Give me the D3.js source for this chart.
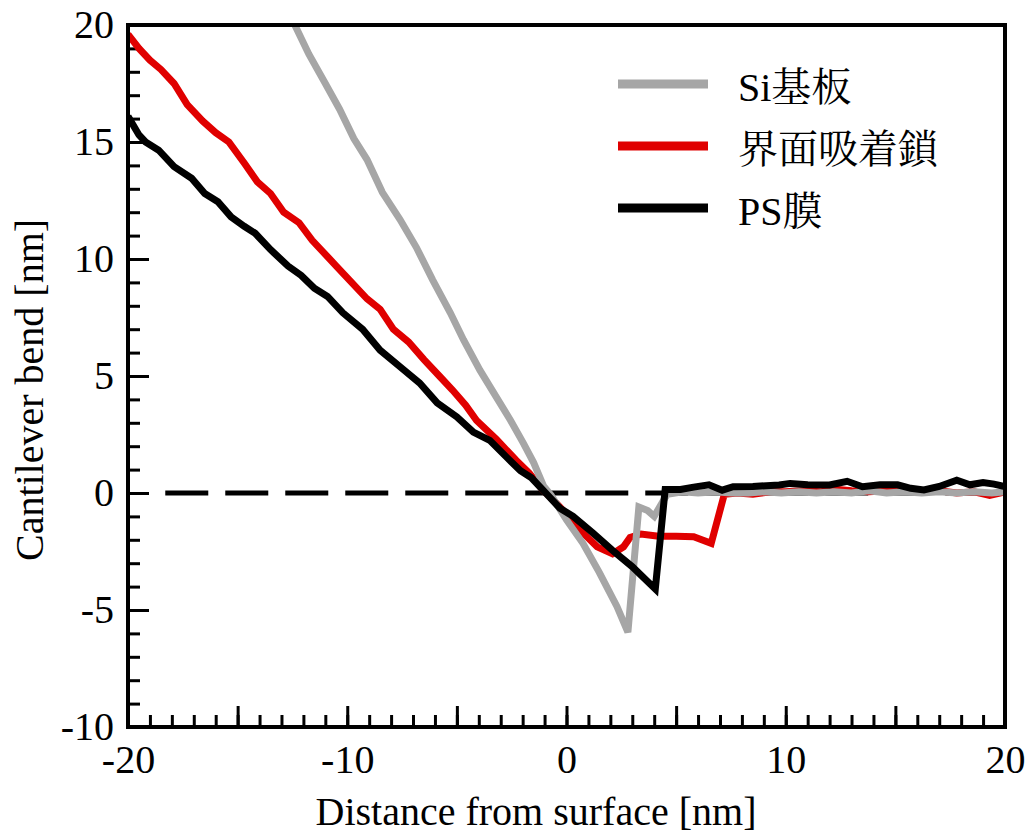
<!DOCTYPE html>
<html>
<head>
<meta charset="utf-8">
<script src="https://cdn.jsdelivr.net/npm/d3@7"></script>
<style>
  html, body { margin: 0; padding: 0; background: #fff; }
</style>
</head>
<body>
<div id="chart-region"></div>
<script>
// Distance from surface [nm] / cantilever bend [nm]
const siX = [-12.7, -11.75, -11.0, -10.35, -9.7, -9.1, -8.4, -7.6, -6.85, -6.1, -5.3, -4.7, -3.95, -3.2, -2.55, -1.95, -1.5, -1.05, -0.7, 0.0, 0.75, 1.5, 2.3, 2.8, 3.3, 3.7, 4.0, 4.4, 4.6, 5.3, 6.0, 6.8, 7.5, 8.3, 9.0, 9.8, 10.6, 11.4, 12.2, 13.0, 13.8, 14.6, 15.4, 16.2, 17.0, 17.8, 18.6, 19.4, 20.0];
const siY = [20.6, 18.75, 17.5, 16.4, 15.15, 14.25, 12.85, 11.7, 10.5, 9.1, 7.7, 6.55, 5.25, 4.1, 3.1, 2.1, 1.3, 0.3, -0.1, -1.15, -2.15, -3.4, -4.85, -5.95, -0.6, -0.75, -1.0, -0.35, -0.05, 0.05, 0.0, 0.05, 0.0, 0.0, 0.05, 0.0, 0.05, 0.0, 0.05, 0.0, 0.1, 0.0, 0.05, 0.0, 0.05, 0.0, 0.05, 0.0, 0.05];

const chainX = [-20.0, -19.5, -19.0, -18.5, -17.9, -17.3, -16.6, -16.0, -15.4, -14.7, -14.1, -13.5, -12.9, -12.2, -11.6, -11.0, -10.5, -9.9, -9.1, -8.5, -7.9, -7.2, -6.5, -5.8, -5.2, -4.6, -4.1, -3.2, -2.3, -1.7, -1.1, -0.5, 0.0, 0.4, 0.8, 1.4, 2.1, 2.6, 2.9, 3.4, 4.2, 5.0, 5.8, 6.6, 7.2, 7.8, 8.5, 9.3, 10.0, 10.8, 11.6, 12.4, 13.0, 13.8, 14.6, 15.4, 16.2, 17.0, 17.8, 18.6, 19.3, 20.0];
const chainY = [19.6, 19.0, 18.5, 18.1, 17.5, 16.6, 15.9, 15.4, 15.0, 14.1, 13.3, 12.8, 12.0, 11.55, 10.8, 10.2, 9.7, 9.1, 8.3, 7.85, 7.0, 6.45, 5.7, 5.0, 4.4, 3.75, 3.1, 2.3, 1.4, 0.85, 0.15, -0.4, -0.9, -1.3, -1.75, -2.3, -2.6, -2.3, -1.9, -1.75, -1.85, -1.85, -1.87, -2.15, -0.05, 0.0, -0.05, 0.05, 0.05, 0.1, 0.05, 0.15, 0.1, 0.05, 0.1, 0.15, 0.05, 0.1, 0.0, 0.05, -0.1, 0.05];

const psX = [-20.0, -19.5, -19.2, -18.6, -17.9, -17.1, -16.5, -15.9, -15.3, -14.7, -14.2, -13.5, -12.7, -12.1, -11.5, -10.9, -10.2, -9.3, -8.5, -7.6, -6.7, -5.9, -5.0, -4.25, -3.5, -2.7, -2.1, -1.6, -0.9, -0.3, 0.3, 1.2, 2.1, 3.0, 4.05, 4.5, 5.2, 5.8, 6.5, 7.1, 7.6, 8.5, 9.7, 10.2, 11.0, 12.0, 12.8, 13.5, 14.3, 15.1, 15.7, 16.3, 17.0, 17.8, 18.4, 19.0, 19.5, 20.0];
const psY = [16.1, 15.3, 15.0, 14.65, 13.95, 13.45, 12.8, 12.45, 11.8, 11.4, 11.1, 10.4, 9.7, 9.3, 8.75, 8.4, 7.7, 7.0, 6.1, 5.4, 4.7, 3.85, 3.25, 2.6, 2.25, 1.5, 0.95, 0.65, -0.05, -0.65, -1.0, -1.7, -2.45, -3.15, -4.1, 0.15, 0.15, 0.25, 0.35, 0.12, 0.27, 0.28, 0.34, 0.41, 0.35, 0.34, 0.5, 0.27, 0.35, 0.35, 0.2, 0.13, 0.28, 0.55, 0.35, 0.45, 0.38, 0.27];

const seriesNames = ["Si基板", "界面吸着鎖", "PS膜"];
const seriesColors = ["#a6a6a6", "#e00000", "#000000"];

const xTicksMajor = [-20, -10, 0, 10, 20];
const yTicksMajor = [-10, -5, 0, 5, 10, 15, 20];

const FONT = "'Liberation Serif', 'Noto Serif CJK JP', serif";

const W = 1027, H = 834;
const margin = { top: 25, right: 22, bottom: 107, left: 128 };
const width = W - margin.left - margin.right,
      height = H - margin.top - margin.bottom;

const svg = d3.select("#chart-region")
  .append("svg")
  .attr("width", W)
  .attr("height", H)
  .attr("font-family", FONT);

const g = svg.append("g")
  .attr("transform", `translate(${margin.left}, ${margin.top})`);

const x = d3.scaleLinear().domain([-20, 20]).range([0, width]);
const y = d3.scaleLinear().domain([-10, 20]).range([height, 0]);

g.append("clipPath").attr("id", "plot-clip")
  .append("rect")
  .attr("width", width).attr("height", height);

/* -------------------- AXES -------------------- */

const styleText = sel => sel
  .attr("font-family", FONT)
  .style("font-size", "40px")
  .attr("fill", "#000");

// minor ticks, every 1 nm, pointing inward
g.append("g")
  .attr("transform", `translate(0, ${height})`)
  .call(d3.axisBottom(x).tickValues(d3.range(-20, 21, 1)).tickSize(-12).tickFormat(""))
  .call(a => a.select(".domain").remove())
  .call(a => a.selectAll("line").attr("stroke-width", 3));

g.append("g")
  .call(d3.axisLeft(y).tickValues(d3.range(-10, 21, 1)).tickSize(-12).tickFormat(""))
  .call(a => a.select(".domain").remove())
  .call(a => a.selectAll("line").attr("stroke-width", 3));

// major ticks every 5, labels every 10 on x
g.append("g")
  .attr("transform", `translate(0, ${height})`)
  .call(d3.axisBottom(x).tickValues(d3.range(-20, 21, 5)).tickSize(-21).tickPadding(18)
    .tickFormat(d => xTicksMajor.includes(d) ? String(d) : ""))
  .call(a => a.select(".domain").remove())
  .call(a => a.selectAll("line").attr("stroke-width", 3))
  .call(a => a.attr("font-family", FONT))
  .call(a => styleText(a.selectAll("text")));

g.append("g")
  .call(d3.axisLeft(y).tickValues(yTicksMajor).tickSize(-21).tickPadding(14).tickFormat(d => String(d)))
  .call(a => a.select(".domain").remove())
  .call(a => a.selectAll("line").attr("stroke-width", 3))
  .call(a => a.attr("font-family", FONT))
  .call(a => styleText(a.selectAll("text")));

/* -------------------- ZERO LINE -------------------- */

g.append("line")
  .attr("x1", x(-18.3)).attr("x2", x(20))
  .attr("y1", y(0)).attr("y2", y(0))
  .attr("stroke", "#000")
  .attr("stroke-width", 5)
  .attr("stroke-dasharray", "43 17");

/* -------------------- CURVES -------------------- */

const line = d3.line().x(d => x(d[0])).y(d => y(d[1]));

const curves = [
  { name: seriesNames[1], color: seriesColors[1], pts: d3.zip(chainX, chainY) },
  { name: seriesNames[0], color: seriesColors[0], pts: d3.zip(siX, siY) },
  { name: seriesNames[2], color: seriesColors[2], pts: d3.zip(psX, psY) }
];

g.append("g").attr("clip-path", "url(#plot-clip)")
  .selectAll("path")
  .data(curves)
  .join("path")
  .attr("d", d => line(d.pts))
  .attr("fill", "none")
  .attr("stroke", d => d.color)
  .attr("stroke-width", 7)
  .attr("stroke-linejoin", "miter")
  .attr("stroke-miterlimit", 4);

/* -------------------- FRAME -------------------- */

g.append("rect")
  .attr("width", width).attr("height", height)
  .attr("fill", "none")
  .attr("stroke", "#000")
  .attr("stroke-width", 4);

/* -------------------- LEGEND -------------------- */

const legend = svg.append("g").attr("transform", "translate(618, 84)");
const items = legend.selectAll("g")
  .data(seriesNames)
  .join("g")
  .attr("transform", (d, i) => `translate(0, ${i * 62})`);

items.append("line")
  .attr("x1", 0).attr("x2", 90)
  .attr("stroke", (d, i) => seriesColors[i])
  .attr("stroke-width", 9);

items.append("text")
  .attr("x", 120).attr("y", 17)
  .call(styleText)
  .text(d => d);

/* -------------------- AXIS TITLES -------------------- */

svg.append("text")
  .attr("x", 536).attr("y", 825)
  .attr("text-anchor", "middle")
  .call(styleText)
  .text("Distance from surface [nm]");

svg.append("text")
  .attr("transform", "translate(43, 390) rotate(-90)")
  .attr("text-anchor", "middle")
  .call(styleText)
  .text("Cantilever bend [nm]");
</script>
</body>
</html>
